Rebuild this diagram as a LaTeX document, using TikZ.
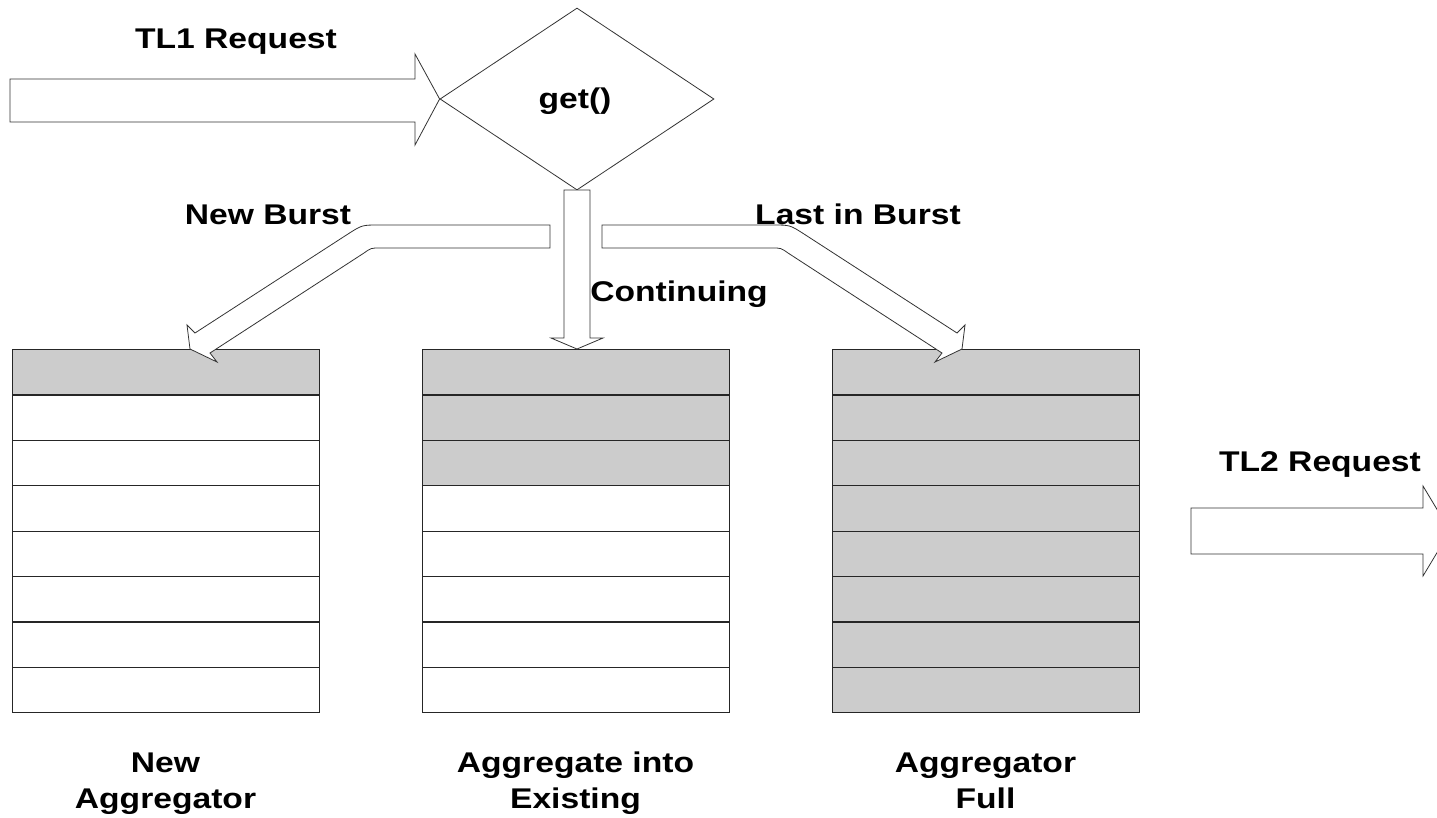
\documentclass[tikz,border=0pt]{standalone}
\usepackage{fontspec}
\setmainfont{Liberation Sans}[FakeStretch=1.18]
\usetikzlibrary{shapes.geometric}
\begin{document}
\begin{tikzpicture}[x=1pt,y=-1pt,
  lbl/.style={font=\fontsize{28.5}{35}\selectfont\bfseries, inner sep=0pt, anchor=base},
  bigarrow/.style={draw=black!80, line width=0.8pt, fill=white, line join=miter},
  cell/.style={draw=black!85, line width=1.1pt, minimum width=307pt, minimum height=45.4pt, inner sep=0pt, anchor=north west},
  fullcell/.style={cell, fill=black!20},
  emptycell/.style={cell, fill=white}]
\clip (0,0) rectangle (1437,817);
\fill[white] (0,0) rectangle (1437,817);

% stacks
\foreach \s/\x/\n in {1/12/1, 2/422/3, 3/832/8}{
  \foreach \r in {1,...,8}{
    \ifnum\r>\n\relax \def\cellst{emptycell}\else\def\cellst{fullcell}\fi
    \node[\cellst] (s\s r\r) at (\x, {349+(\r-1)*45.4}) {};
  }
}

% decision diamond
\node[draw=black!80, line width=0.8pt, diamond, minimum width=274pt, minimum height=182pt, inner sep=0pt] (dec) at (577,99) {};
\node[lbl] (get) at (575,108) {get()};

% TL1 request arrow
\draw[bigarrow] (10,79) -- (415,79) -- (415,54) -- (dec.west) -- (415,145) -- (415,122) -- (10,122) -- cycle;
\node[lbl] (tl1) at (236,48) {TL1 Request};

% Continuing arrow
\draw[bigarrow] (564,190) -- (590,190) -- (590,338) -- (603,338) -- (s2r1.north -| dec.south) -- (551,338) -- (564,338) -- cycle;
\node[lbl] (cont) at (679,301) {Continuing};

% New Burst arrow
\draw[bigarrow] (550,225) -- (379,225) .. controls (362,225) .. (348,234) -- (195,333) -- (187,325) -- (190,349) -- (217,362) -- (210,353) -- (364,253) .. controls (371,248) .. (380,248) -- (550,248) -- cycle;
\node[lbl] (nb) at (268,224) {New Burst};

% Last in Burst arrow
\draw[bigarrow] (602,225) -- (773,225) .. controls (790,225) .. (804,234) -- (957,333) -- (965,325) -- (962,349) -- (935,362) -- (942,353) -- (788,253) .. controls (781,248) .. (772,248) -- (602,248) -- cycle;
\node[lbl] (lb) at (858,224) {Last in Burst};

% TL2 request arrow
\draw[bigarrow] (1191,508) -- (1423,508) -- (1423,486) -- (1450,531) -- (1423,576) -- (1423,554) -- (1191,554) -- cycle;
\node[lbl] (tl2) at (1320,471) {TL2 Request};

% captions
\node[lbl] (c1a) at (165.5,772) {New};
\node[lbl] (c1b) at (165.5,808) {Aggregator};
\node[lbl] (c2a) at (575.5,772) {Aggregate into};
\node[lbl] (c2b) at (575.5,808) {Existing};
\node[lbl] (c3a) at (985.5,772) {Aggregator};
\node[lbl] (c3b) at (985.5,808) {Full};
\end{tikzpicture}
\end{document}
